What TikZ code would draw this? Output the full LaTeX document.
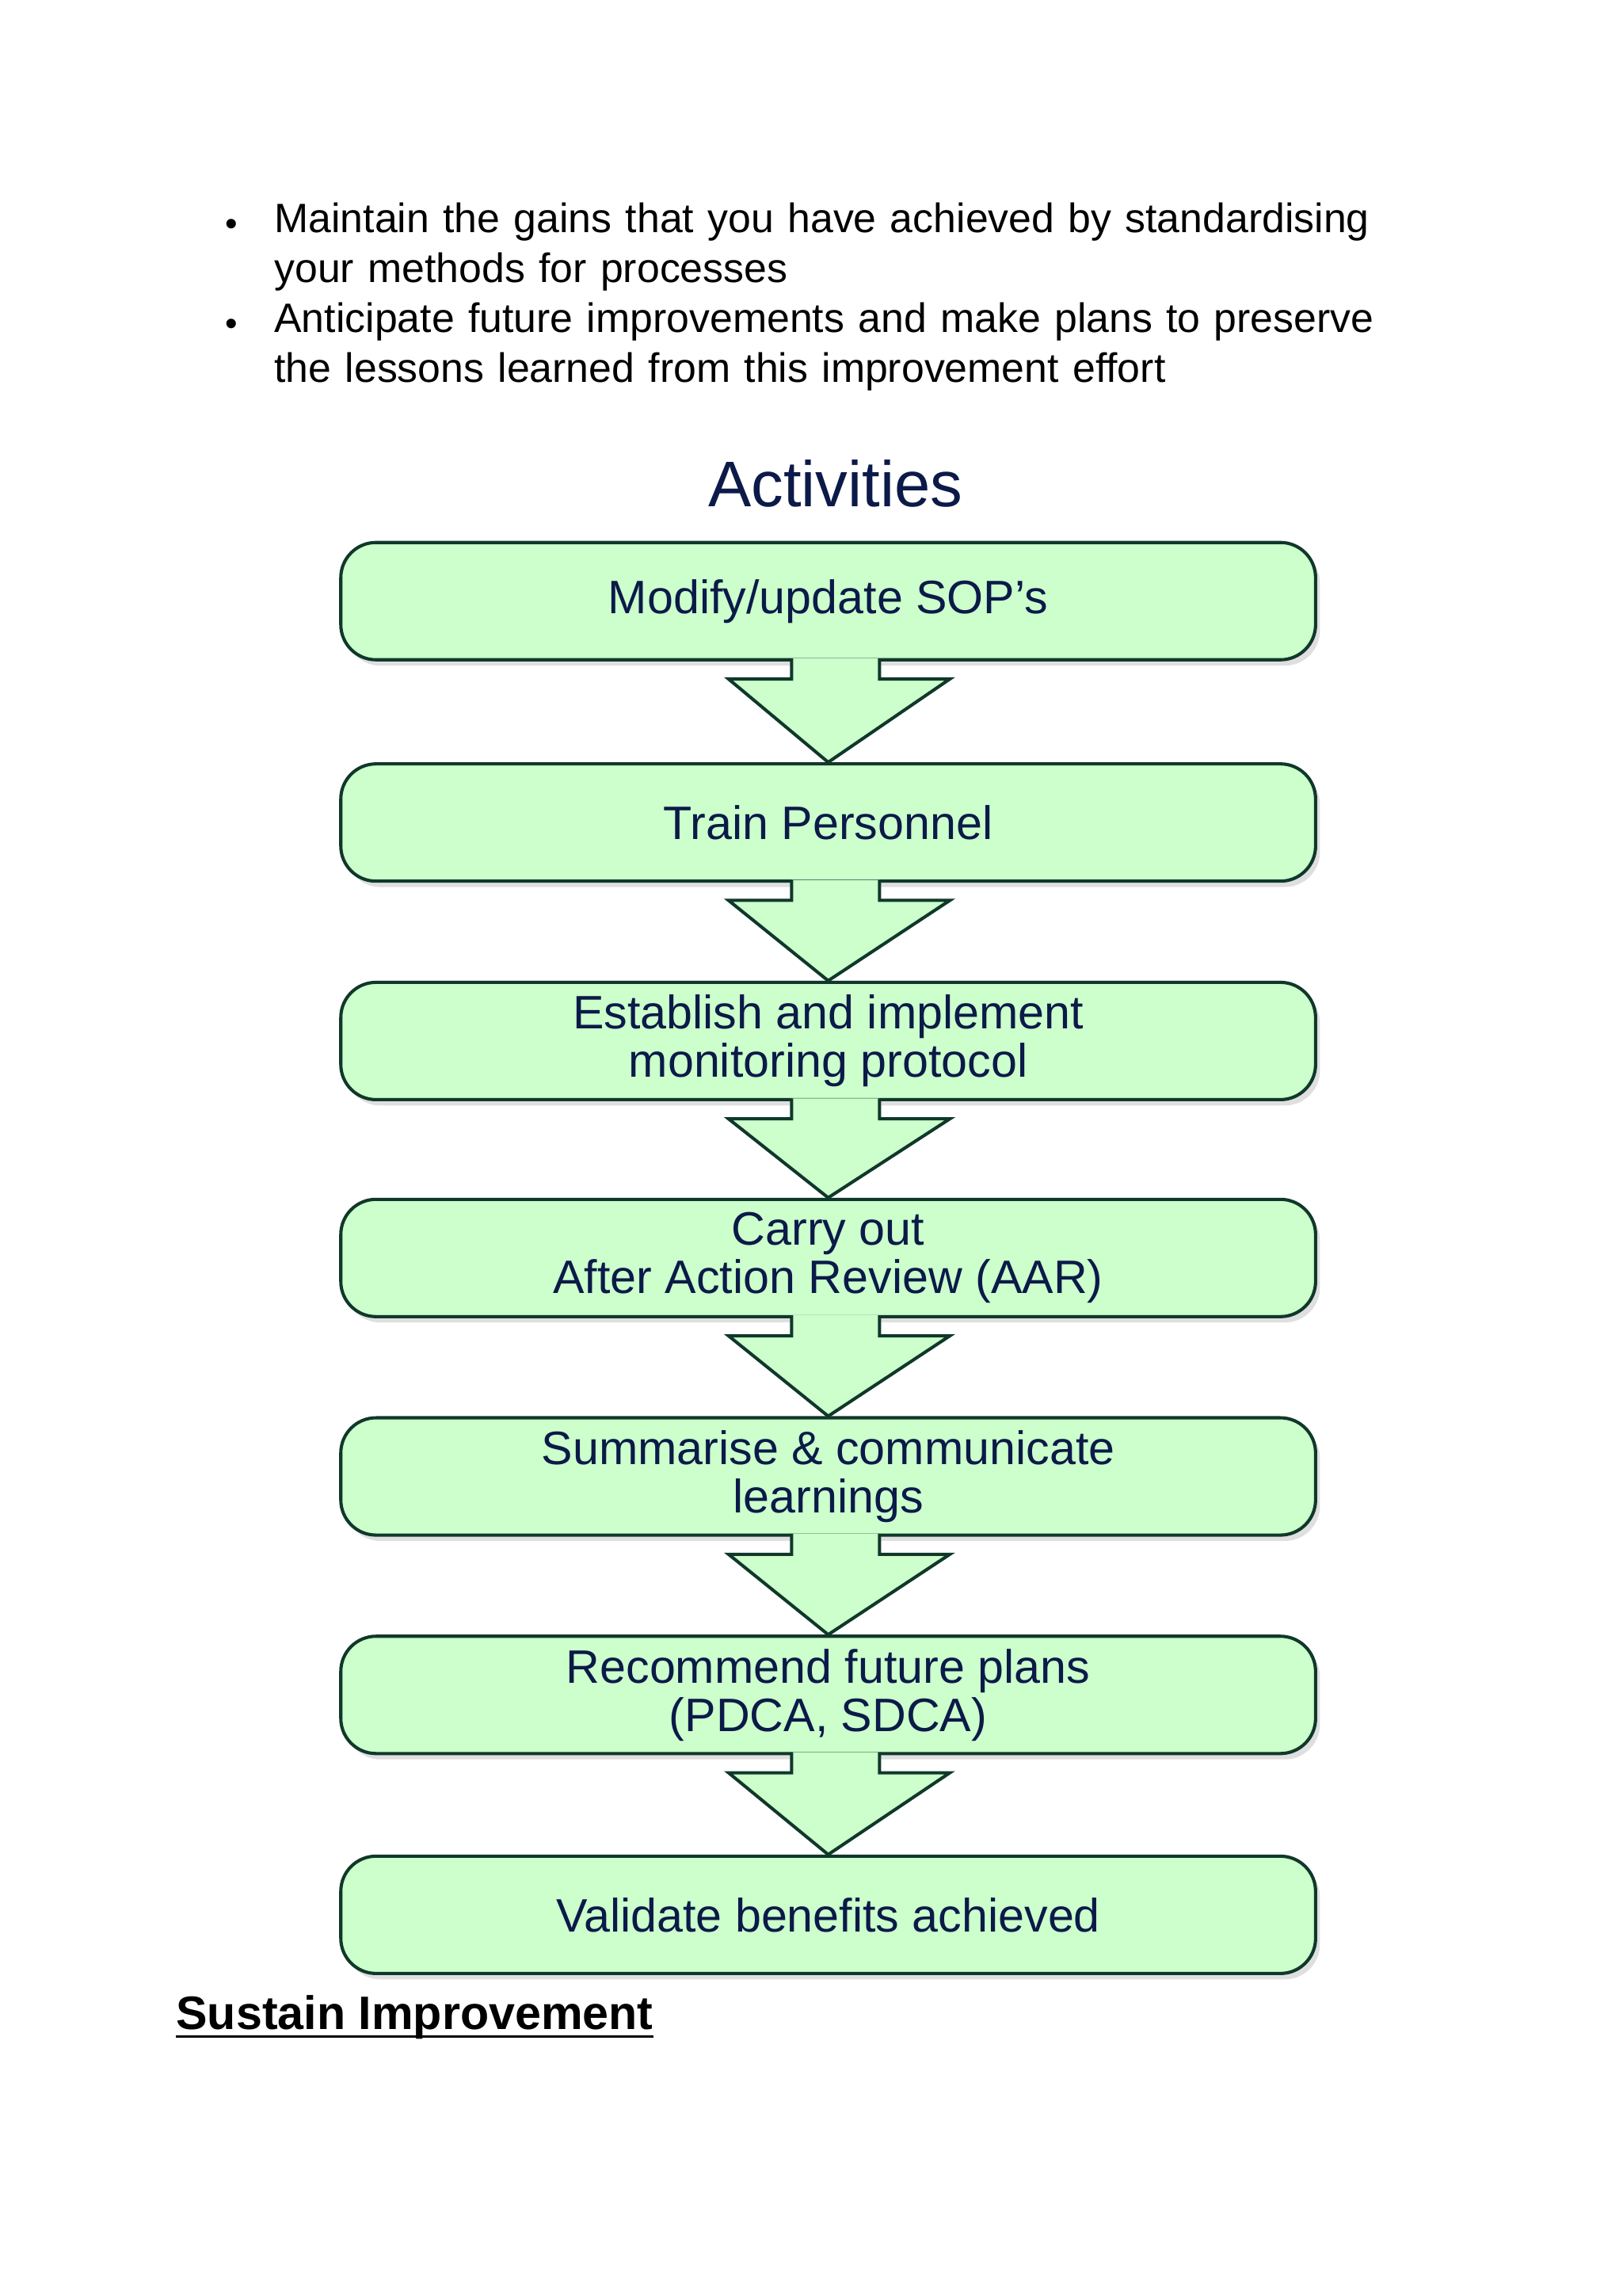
\documentclass[tikz,border=0pt]{standalone}
\usepackage{fontspec}
\setmainfont{Liberation Sans}
\usetikzlibrary{shadows}
\definecolor{boxfill}{HTML}{CCFFCC}
\definecolor{boxline}{HTML}{10382A}
\definecolor{txt}{HTML}{0B1A48}
\begin{document}
\begin{tikzpicture}[x=1pt,y=-1pt,
  actbox/.style={draw=boxline,line width=2.2pt,fill=boxfill,rounded corners=24pt,
    minimum width=665pt,minimum height=80pt,inner sep=0pt,align=center,
    font=\fontsize{32}{33}\selectfont,text=txt,
    drop shadow={shadow xshift=3pt,shadow yshift=-4pt,fill=black!25}},
  bul/.style={anchor=north west,text width=801pt,font=\fontsize{28}{34}\selectfont,inner sep=0pt},
  arr/.style={draw=boxline,line width=2.2pt,fill=boxfill,line join=miter}]
\useasboundingbox (0,0) rectangle (1107,1566);
\node[bul] (b1) at (187,138)
 {{\parfillskip=0pt Maintain the gains that you have achieved by standardising\par}your methods for processes};
\node[bul] (b2) at (187,206)
 {{\parfillskip=0pt Anticipate future improvements and make plans to preserve\par}the lessons learned from this improvement effort};
\node[font=\fontsize{24}{24}\selectfont] (d1) at (158,155) {\textbullet};
\node[font=\fontsize{24}{24}\selectfont] (d2) at (158,223) {\textbullet};
\node[font=\fontsize{44}{44}\selectfont,text=txt] (title) at (570,330) {Activities};
\foreach \i/\t/\y in {1/{Modify/update SOP's}/410, 2/{Train Personnel}/561, 3/{Establish and implement\\monitoring protocol}/710,
  4/{Carry out\\After Action Review (AAR)}/858, 5/{Summarise \& communicate\\learnings}/1007, 6/{Recommend future plans\\(PDCA, SDCA)}/1156, 7/{Validate benefits achieved}/1306}
  \node[actbox] (s\i) at (565,\y) {\t};
\foreach \i/\j in {1/2,2/3,3/4,4/5,5/6,6/7}
  \draw[arr] ([xshift=-25pt,yshift=2pt]s\i.south) -- ++(0,14) -- ++(-43,0)
    -- (s\j.north) -- ([xshift=83pt,yshift=-12pt]s\i.south) -- ++(-48,0) -- ++(0,-14);
\node[anchor=base west,font=\fontsize{32}{32}\selectfont\bfseries,inner sep=0pt] (sus) at (120,1384) {Sustain Improvement};
\draw[line width=2pt] ([yshift=-5pt]sus.base west) -- ([yshift=-5pt]sus.base east);
\end{tikzpicture}
\end{document}
